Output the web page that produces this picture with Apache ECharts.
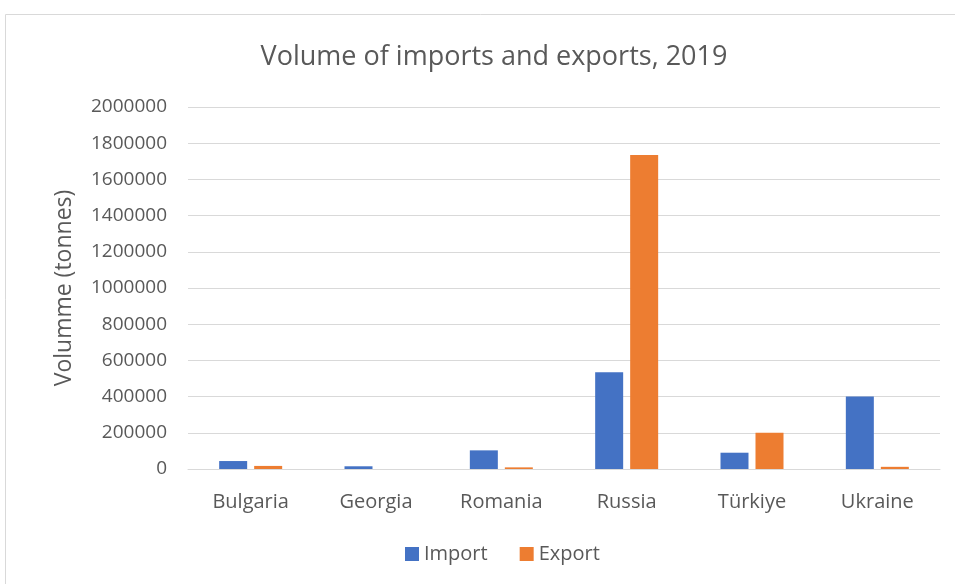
<!DOCTYPE html>
<html>
<head>
<meta charset="utf-8">
<script src="https://cdn.jsdelivr.net/npm/echarts@6/dist/echarts.min.js"></script>
<style>
  html, body { margin: 0; padding: 0; background: #fff; }
  #chart { width: 955px; height: 584px; }
</style>
</head>
<body>
<div id="chart"></div>
<script>
const countries = ['Bulgaria', 'Georgia', 'Romania', 'Russia', 'Türkiye', 'Ukraine']
const importVals = [44000, 15000, 103000, 534000, 90000, 400000]
const exportVals = [17000, 0, 9000, 1735000, 200000, 12000]

const textColor = '#595959'
const font = 'Open Sans'

const myChart = echarts.init(document.getElementById('chart'))

myChart.setOption({
  animation: false,
  graphic: [
    {
      // outer chart frame
      type: 'rect',
      shape: { x: 5.5, y: 14.5, width: 970, height: 600 },
      style: { fill: 'none', stroke: '#d9d9d9', lineWidth: 1 }
    }
  ],
  title: {
    text: 'Volume of imports and exports, 2019',
    left: 489,
    textAlign: 'center',
    top: 39,
    textStyle: {
      color: textColor,
      fontFamily: font,
      fontSize: 27,
      fontWeight: 'normal'
    }
  },
  legend: {
    bottom: 15,
    left: 400,
    itemWidth: 14,
    itemHeight: 14,
    itemGap: 32,
    icon: 'rect',
    textStyle: {
      color: textColor,
      fontFamily: font,
      fontSize: 20
    },
    data: ['Import', 'Export']
  },
  grid: {
    left: 188,
    right: 15,
    top: 107,
    bottom: 115
  },
  xAxis: {
    type: 'category',
    data: countries,
    axisTick: { show: false },
    axisLine: {
      show: true,
      lineStyle: { color: '#d9d9d9', width: 1 }
    },
    axisLabel: {
      color: textColor,
      fontFamily: font,
      fontSize: 20,
      margin: 23
    }
  },
  yAxis: {
    type: 'value',
    min: 0,
    max: 2000000,
    interval: 200000,
    name: 'Volumme (tonnes)',
    nameLocation: 'middle',
    nameGap: 112,
    nameTextStyle: {
      color: textColor,
      fontFamily: font,
      fontSize: 23
    },
    axisLine: { show: false },
    axisTick: { show: false },
    splitLine: {
      show: true,
      lineStyle: { color: '#d9d9d9', width: 1 }
    },
    axisLabel: {
      color: textColor,
      fontFamily: font,
      fontSize: 19,
      margin: 21,
      formatter: v => String(v)
    }
  },
  series: [
    {
      name: 'Import',
      type: 'bar',
      barWidth: 28,
      barGap: '25%',
      data: importVals,
      itemStyle: { color: '#4472c4' }
    },
    {
      name: 'Export',
      type: 'bar',
      barWidth: 28,
      data: exportVals,
      itemStyle: { color: '#ed7d31' }
    }
  ]
})
</script>
</body>
</html>
